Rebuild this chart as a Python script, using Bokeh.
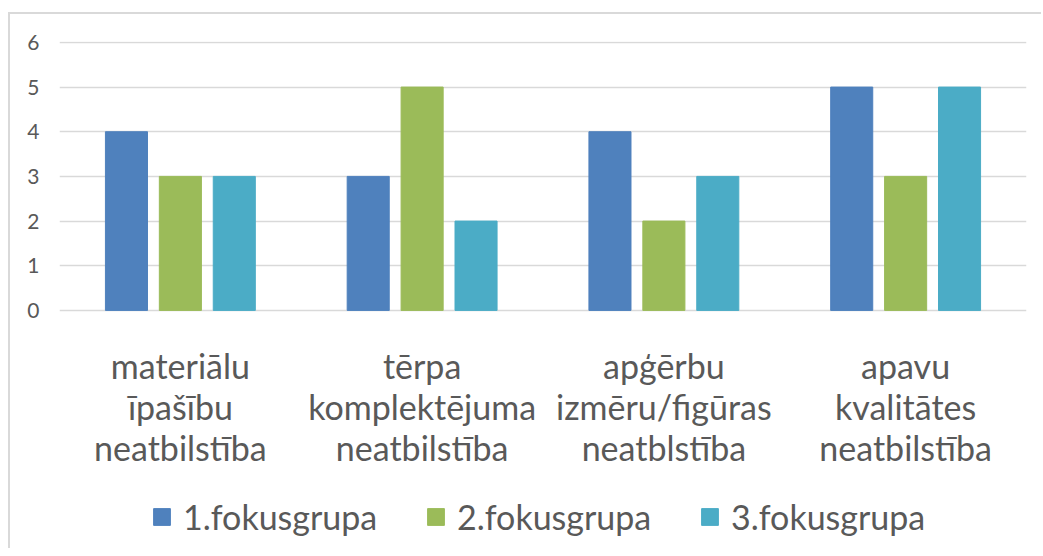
from bokeh.plotting import figure
from bokeh.models import ColumnDataSource, FactorRange, Legend, LegendItem
from bokeh.transform import dodge
from bokeh.core.properties import value
from bokeh.embed import file_html
from bokeh.resources import INLINE

categories = ["materiālu\nīpašību\nneatbilstība",
              "tērpa\nkomplektējuma\nneatbilstība",
              "apģērbu\nizmēru/figūras\nneatblstība",
              "apavu\nkvalitātes\nneatbilstība"]
series_names = ["1.fokusgrupa", "2.fokusgrupa", "3.fokusgrupa"]
group1 = [4, 3, 4, 5]
group2 = [3, 5, 2, 3]
group3 = [3, 2, 3, 5]
colors = ["#4F81BD", "#9BBB59", "#4BACC6"]
y_ticks = [0, 1, 2, 3, 4, 5, 6]

source = ColumnDataSource(dict(cat=categories, g1=group1, g2=group2, g3=group3,
                               base=[0] * len(categories)))

FONT = "Lato"
TXT = "#595959"

p = figure(x_range=FactorRange(*categories, range_padding=0), y_range=(-5.33, 6.02),
           frame_width=967, frame_height=507,
           output_backend="svg", toolbar_location=None,
           min_border_left=49, min_border_top=27, min_border_right=15,
           min_border_bottom=0)
p.x_range.factor_padding = 0

offsets = [-0.223, 0.0, 0.223]
cols = ["g1", "g2", "g3"]
renderers = []
for c, off, col in zip(cols, offsets, colors):
    r = p.vbar(x=dodge("cat", off, range=p.x_range), top=c, bottom="base", width=0.174,
               source=source, fill_color=col, line_color=col, line_width=1)
    renderers.append(r)

# category labels under the bars
p.text(x="cat", y="base", text="cat", source=source,
       text_font=value(FONT), text_font_size="34px", text_color=TXT,
       text_align="center", text_baseline="top", text_line_height=1.0,
       y_offset=35)

p.outline_line_color = None
p.xgrid.grid_line_color = None
p.ygrid.grid_line_color = "#D9D9D9"
p.ygrid.grid_line_width = 1.3
p.xaxis.visible = False
p.yaxis.ticker = y_ticks
p.yaxis.axis_line_color = None
p.yaxis.major_tick_line_color = None
p.yaxis.minor_tick_line_color = None
p.yaxis.major_label_text_font = FONT
p.yaxis.major_label_text_font_size = "21px"
p.yaxis.major_label_text_color = TXT
p.yaxis.major_label_standoff = 14

legend = Legend(items=[LegendItem(label=n, renderers=[r]) for n, r in zip(series_names, renderers)],
                orientation="horizontal", location=(92, 11),
                label_text_font=FONT, label_text_font_size="34px",
                label_text_color=TXT, glyph_width=21, glyph_height=21,
                label_standoff=11, spacing=0, label_width=242,
                border_line_color=None, background_fill_alpha=0,
                margin=0, padding=4)
p.add_layout(legend, "center")

p.styles = {"margin-top": "12px", "margin-left": "8px",
            "border-left": "2px solid #D9D9D9", "border-top": "2px solid #D9D9D9"}

open("out.html", "w").write(file_html(p, INLINE))
